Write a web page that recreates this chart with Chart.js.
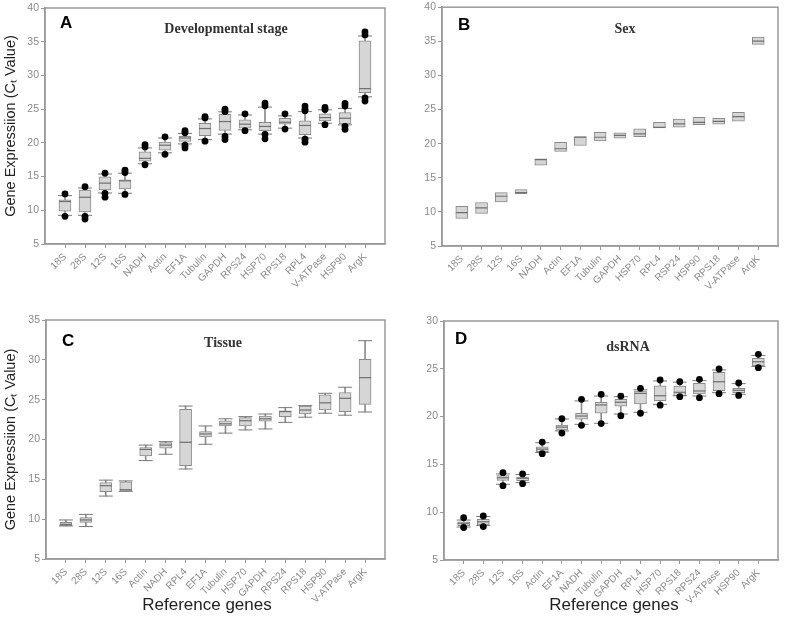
<!DOCTYPE html>
<html>
<head>
<meta charset="utf-8">
<script src="https://cdn.jsdelivr.net/npm/chart.js@4.4.1/dist/chart.umd.min.js"></script>
<style>
  body { margin: 0; background: #fff; }
  canvas { position: absolute; }
</style>
</head>
<body>
<canvas id="chartA" width="393" height="310" style="left:0;top:0"></canvas>
<canvas id="chartB" width="394" height="310" style="left:393px;top:0"></canvas>
<canvas id="chartC" width="393" height="316" style="left:0;top:310px"></canvas>
<canvas id="chartD" width="394" height="316" style="left:393px;top:310px"></canvas>
<script>
// Values (Ct values)
// A: developmental stage
const genesA = ['18S', '28S', '12S', '16S', 'NADH', 'Actin', 'EF1A', 'Tubulin', 'GAPDH', 'RPS24', 'HSP70', 'RPS18', 'RPL4', 'V-ATPase', 'HSP90', 'ArgK'];
const minA = [9.25, 9.25, 12.57, 12.52, 16.9, 18.52, 19.84, 20.48, 21.3, 21.94, 21.3, 22.18, 20.72, 22.91, 22.67, 26.82];
const q1A = [9.88, 9.74, 13.01, 13.16, 17.3, 18.91, 20.23, 21.07, 21.84, 22.18, 21.8, 22.77, 21.2, 23.26, 22.82, 27.45];
const medA = [11.3, 11.93, 14.03, 14.37, 17.7, 19.65, 20.72, 22.13, 23.16, 22.77, 22.43, 23.06, 22.58, 23.75, 23.65, 28.04];
const q3A = [11.55, 13.01, 14.96, 14.52, 18.67, 20.13, 20.96, 22.91, 24.23, 23.4, 23.06, 23.64, 23.26, 24.29, 24.48, 35.12];
const maxA = [12.18, 13.3, 15.37, 15.5, 19.25, 20.72, 21.4, 23.55, 24.6, 24.14, 25.3, 24.0, 24.63, 24.9, 25.1, 35.85];
const outA = [
  [12.42, 9.1], [13.5, 9.1, 8.7], [15.5, 12.5, 11.95], [15.95, 15.6, 12.35],
  [19.75, 19.4, 16.75], [20.9, 18.3], [21.8, 21.5, 19.65, 19.25], [23.9, 23.7, 20.25],
  [25.0, 24.65, 20.95, 20.5], [24.3, 21.8], [25.9, 25.5, 21.25, 20.6], [24.3, 22.05],
  [25.45, 25.0, 24.75, 20.55, 20.1], [25.25, 24.95, 22.7], [25.85, 25.45, 22.45, 22.0], [36.45, 36.0, 26.65, 26.2]
];

// B: sex
const genesB = ['18S', '28S', '12S', '16S', 'NADH', 'Actin', 'EF1A', 'Tubulin', 'GAPDH', 'HSP70', 'RPL4', 'RSP24', 'HSP90', 'RPS18', 'V-ATPase', 'ArgK'];
const q1B = [9.03, 9.77, 11.46, 12.68, 16.86, 18.85, 19.73, 20.41, 20.8, 21.04, 22.3, 22.4, 22.79, 22.87, 23.28, 34.56];
const medB = [9.9, 10.59, 12.29, 12.83, 17.65, 19.25, 20.94, 20.94, 21.2, 21.43, 22.4, 22.89, 23.13, 23.28, 23.96, 35.04];
const q3B = [10.83, 11.37, 12.83, 13.26, 17.79, 20.21, 21.04, 21.67, 21.6, 22.16, 23.13, 23.62, 23.86, 23.7, 24.59, 35.62];

// C: tissue
const genesC = ['18S', '28S', '12S', '16S', 'Actin', 'NADH', 'RPL4', 'EF1A', 'Tubulin', 'HSP70', 'GAPDH', 'RPS24', 'RPS18', 'HSP90', 'V-ATPase', 'ArgK'];
const minC = [9.15, 9.07, 12.9, 13.5, 17.35, 18.15, 16.3, 19.4, 20.8, 21.2, 21.32, 22.15, 22.8, 23.3, 23.05, 23.45];
const q1C = [9.15, 9.6, 13.46, 13.5, 17.95, 18.9, 16.7, 20.32, 21.7, 21.7, 22.3, 22.87, 23.2, 23.7, 23.5, 24.4];
const medC = [9.35, 9.9, 14.2, 13.7, 18.75, 19.3, 19.65, 20.7, 21.97, 22.36, 22.6, 23.5, 23.7, 24.6, 25.17, 27.76];
const q3C = [9.6, 10.2, 14.6, 14.7, 19.0, 19.6, 23.8, 21.0, 22.35, 22.75, 22.95, 23.6, 24.2, 25.6, 25.9, 30.06];
const maxC = [9.9, 10.6, 14.9, 14.8, 19.3, 19.73, 24.2, 21.7, 22.6, 22.87, 23.2, 24.0, 24.25, 25.8, 26.56, 32.4];

// D: dsRNA
const genesD = ['18S', '28S', '12S', '16S', 'Actin', 'EF1A', 'NADH', 'Tubulin', 'GAPDH', 'RPL4', 'HSP70', 'RPS18', 'RPS24', 'V-ATPase', 'HSP90', 'ArgK'];
const minD = [8.45, 8.6, 12.92, 13.09, 16.24, 18.5, 19.19, 19.3, 20.27, 20.45, 21.28, 22.18, 22.15, 22.5, 22.33, 25.25];
const q1D = [8.6, 8.66, 13.33, 13.3, 16.33, 18.6, 19.72, 20.35, 21.1, 21.32, 21.66, 22.18, 22.36, 22.71, 22.5, 25.3];
const medD = [8.84, 9.0, 13.6, 13.55, 16.6, 18.9, 20.06, 21.22, 21.5, 22.43, 22.18, 22.54, 22.68, 23.65, 22.75, 25.74];
const q3D = [9.0, 9.26, 13.82, 13.68, 16.85, 19.12, 20.35, 21.5, 21.8, 22.68, 23.23, 23.2, 23.48, 24.63, 22.96, 26.1];
const maxD = [9.18, 9.55, 14.0, 13.95, 17.27, 19.75, 21.64, 22.15, 22.08, 22.8, 23.73, 23.6, 23.76, 24.88, 23.45, 26.4];
const outD = [
  [9.43, 8.4], [9.6, 8.5], [14.13, 12.77], [14.0, 12.98], [17.34, 16.12], [19.78, 18.28],
  [21.81, 19.09], [22.33, 19.27], [22.15, 20.1], [22.96, 20.35], [23.83, 21.2], [23.65, 22.08],
  [23.9, 21.98], [24.98, 22.4], [23.52, 22.22], [26.51, 25.12]
];

const yTitle = 'Gene Expressiion (C\u209C Value)';
const xTitle = 'Reference genes';
const SANS = '"Liberation Sans", Arial, sans-serif';

Chart.defaults.font.family = SANS;
Chart.defaults.animation = false;

// frame round the plot, panel letter and title inside it, x axis caption
const panelText = {
  id: 'panelText',
  afterDraw(chart, args, opts) {
    const { ctx, chartArea: a } = chart;
    ctx.save();
    ctx.strokeStyle = '#9a9a9a';
    ctx.lineWidth = 1.5;
    ctx.strokeRect(a.left, a.top, a.right - a.left, a.bottom - a.top);
    ctx.textBaseline = 'middle';
    ctx.fillStyle = '#000';
    ctx.font = 'bold 17px ' + SANS;
    ctx.fillText(opts.letter, opts.letterX, opts.letterY);
    ctx.fillStyle = '#333';
    ctx.font = 'bold 14px "Liberation Serif", "Times New Roman", serif';
    ctx.textAlign = 'center';
    ctx.fillText(opts.title, opts.titleX, opts.titleY);
    if (opts.xText) {
      ctx.fillStyle = '#222';
      ctx.font = '17px ' + SANS;
      ctx.fillText(opts.xText, opts.xTextX, opts.xTextY);
    }
    ctx.restore();
  }
};

function boxChart(id, p) {
  const W = p.size[0], H = p.size[1];
  const at = (arr) => arr.map((y, i) => ({ x: i, y }));
  const datasets = [];
  if (p.min) {
    datasets.push({ type: 'bar', order: 5, grouped: false, barThickness: 1, backgroundColor: '#8c8c8c',
      data: p.min.map((v, i) => ({ x: i, y: [v, p.max[i]] })) });
  }
  datasets.push({ type: 'bar', order: 4, grouped: false, barThickness: 12,
    backgroundColor: '#d6d6d6', borderColor: '#8a8a8a', borderWidth: 1, borderSkipped: false,
    data: p.q1.map((v, i) => ({ x: i, y: [v, p.q3[i]] })) });
  if (p.min) {
    [p.min, p.max].forEach(arr => datasets.push({ type: 'line', order: 3, showLine: false,
      pointStyle: 'line', pointRadius: 7, pointBorderWidth: 1, pointBorderColor: '#777', data: at(arr) }));
  }
  datasets.push({ type: 'line', order: 2, showLine: false,
    pointStyle: 'line', pointRadius: 6, pointBorderWidth: 1.2, pointBorderColor: '#6f6f6f', data: at(p.med) });
  if (p.out) {
    datasets.push({ type: 'line', order: 1, showLine: false, pointStyle: 'circle', pointRadius: 3.4,
      pointBackgroundColor: '#000', pointBorderColor: '#000', pointBorderWidth: 0,
      data: p.out.flatMap((vals, i) => vals.map(y => ({ x: i, y }))) });
  }

  new Chart(document.getElementById(id), {
    type: 'bar',
    data: { datasets },
    plugins: [panelText],
    options: {
      responsive: false,
      layout: { padding: { left: 0, top: p.area.top, right: W - p.area.right, bottom: 0 } },
      plugins: {
        legend: { display: false },
        tooltip: { enabled: false },
        panelText: { letter: p.letter, letterX: p.letterAt[0], letterY: p.letterAt[1],
          title: p.title, titleX: p.titleAt[0], titleY: p.titleAt[1],
          xText: p.xTitle, xTextX: p.xTitleAt ? p.xTitleAt[0] : 0, xTextY: p.xTitleAt ? p.xTitleAt[1] : 0 }
      },
      scales: {
        x: {
          type: 'linear', min: -1, max: 16, offset: false,
          afterBuildTicks: s => { s.ticks = p.genes.map((g, i) => ({ value: i })); },
          afterFit: s => { s.height = H - p.area.bottom; s.paddingLeft = 0; s.paddingRight = 0; },
          ticks: { callback: (v, i) => p.genes[i], autoSkip: false, minRotation: 45, maxRotation: 45,
            color: '#8a8a8a', font: { size: 10 }, padding: 3 },
          grid: { offset: false, drawOnChartArea: false, tickLength: 4, color: '#999' },
          border: { color: '#9a9a9a', width: 1.5 }
        },
        y: {
          min: p.y[0], max: p.y[1],
          afterFit: s => { s.width = p.area.left; s.paddingTop = 0; s.paddingBottom = 0; },
          ticks: { stepSize: 5, color: '#8a8a8a', font: { size: 10.5 }, padding: 2 },
          grid: { drawOnChartArea: false, tickLength: 4, color: '#999' },
          border: { color: '#9a9a9a', width: 1.5 },
          title: { display: !!p.yTitle, text: p.yTitle, color: '#222', font: { size: 14.5 },
            padding: { top: 2, bottom: 0 } }
        }
      }
    }
  });
}

boxChart('chartA', { genes: genesA, min: minA, q1: q1A, med: medA, q3: q3A, max: maxA, out: outA,
  y: [5, 40], yTitle: yTitle, size: [393, 310], area: { left: 45, top: 5, right: 386, bottom: 244 },
  letter: 'A', letterAt: [60, 23], title: 'Developmental stage', titleAt: [226, 29] });

boxChart('chartB', { genes: genesB, q1: q1B, med: medB, q3: q3B,
  y: [5, 40], size: [394, 310], area: { left: 49, top: 6, right: 385, bottom: 246 },
  letter: 'B', letterAt: [65, 25], title: 'Sex', titleAt: [232, 29] });

boxChart('chartC', { genes: genesC, min: minC, q1: q1C, med: medC, q3: q3C, max: maxC,
  y: [5, 35], yTitle: yTitle, xTitle: xTitle, xTitleAt: [207, 295], size: [393, 316],
  area: { left: 46, top: 10, right: 387, bottom: 249 },
  letter: 'C', letterAt: [62, 31], title: 'Tissue', titleAt: [223, 33] });

boxChart('chartD', { genes: genesD, min: minD, q1: q1D, med: medD, q3: q3D, max: maxD, out: outD,
  y: [5, 30], xTitle: xTitle, xTitleAt: [221, 295], size: [394, 316],
  area: { left: 51, top: 11, right: 385, bottom: 250 },
  letter: 'D', letterAt: [62, 29.5], title: 'dsRNA', titleAt: [235, 37] });
</script>
</body>
</html>
